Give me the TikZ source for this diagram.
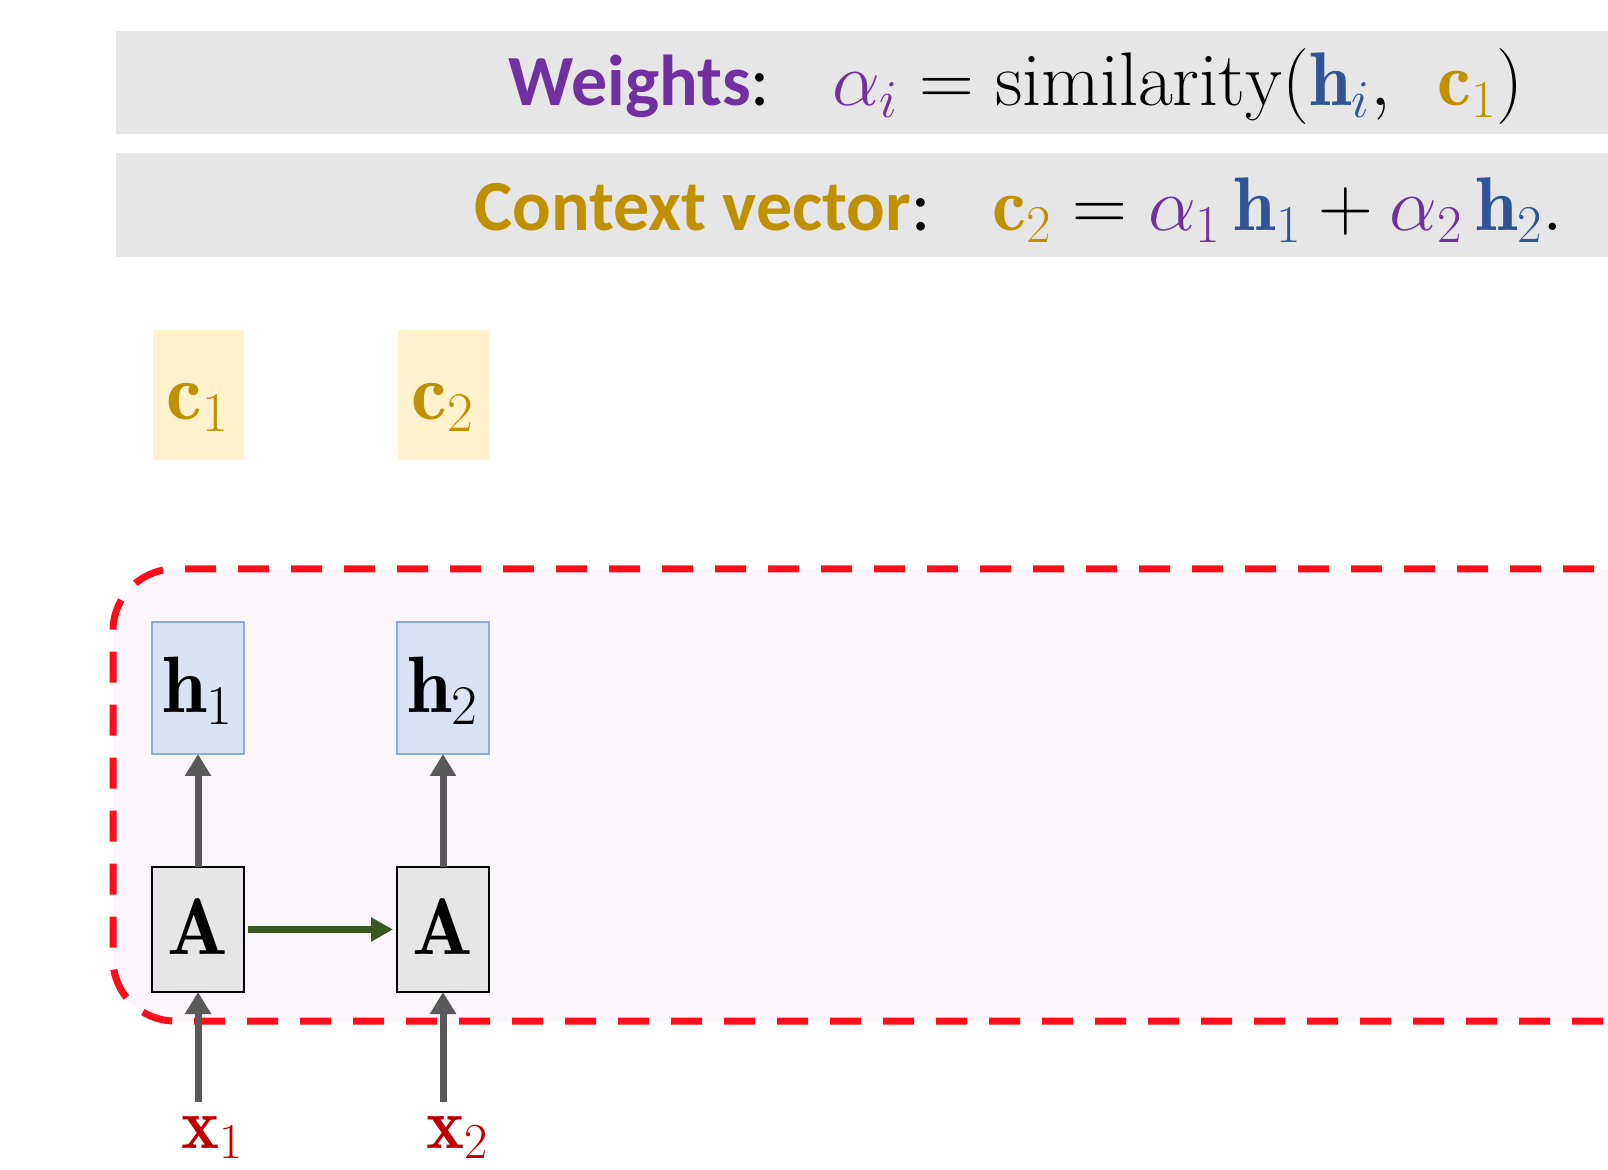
\documentclass[tikz,border=0pt]{standalone}
\usepackage{fix-cm}
\usepackage{amsmath}
\usepackage{fontspec}
\newfontfamily\calibri{Carlito}
\usetikzlibrary{positioning}
\usetikzlibrary{arrows.meta}

\definecolor{wpurple}{HTML}{7030A0}
\definecolor{cgold}{HTML}{BF9000}
\definecolor{hblue}{HTML}{2F5597}
\definecolor{xred}{HTML}{C00000}
\definecolor{barfill}{HTML}{E6E6E6}
\definecolor{cfill}{HTML}{FFF2CC}
\definecolor{hfill}{HTML}{DAE3F3}
\definecolor{hline}{HTML}{8FAADC}
\definecolor{cellfill}{HTML}{E6E6E6}
\definecolor{regionfill}{HTML}{FAF6FC}
\definecolor{dashred}{HTML}{FF0D1A}
\definecolor{arrowgray}{HTML}{595959}
\definecolor{stategreen}{HTML}{385723}

\newcommand{\eqfont}{\fontsize{38}{44}\selectfont}

\begin{document}
\begin{tikzpicture}[x=0.5pt, y=-0.5pt, node distance=56.5pt and 76.5pt,
    cell/.style={draw=black, line width=1pt, fill=cellfill, minimum width=46pt, minimum height=62.5pt,
        inner sep=0pt, outer sep=0pt, text height=25pt, text depth=0pt, font=\fontsize{40}{40}\selectfont},
    hidden/.style={draw=hline, line width=1pt, fill=hfill, minimum width=46pt, minimum height=66pt,
        inner sep=0pt, outer sep=0pt, text height=25pt, text depth=0pt, font=\fontsize{40}{40}\selectfont},
    context/.style={fill=cfill, minimum width=45.5pt, minimum height=65pt, inner sep=0pt, outer sep=0pt,
        text height=25pt, text depth=0pt, text=cgold, font=\fontsize{40}{40}\selectfont},
    input/.style={inner sep=0pt, text height=17pt, text depth=0pt, text=xred, font=\fontsize{36}{36}\selectfont},
    formula/.style={anchor=base west, inner sep=0pt, font=\fontsize{36}{40}\selectfont},
    bar/.style={fill=barfill},
    up/.style={draw=arrowgray, line width=3.5pt, -{Triangle[length=11pt, width=12.5pt]}},
    recur/.style={draw=stategreen, line width=3.5pt, -{Triangle[length=11pt, width=11.5pt]}}]

    \useasboundingbox (0,0) rectangle (1608,1170);

    % formula bars
    \fill[bar] (116,31) rectangle (1608,134);
    \fill[bar] (116,153) rectangle (1608,257);
    \node[formula] (weights) at (508,106)
        {{\calibri\bfseries\color{wpurple}Weights}{\calibri:}\hspace{31pt}%
        {\eqfont$\color{wpurple}\alpha_i \color{black} = \mathrm{similarity}(
        {\color{hblue}\mathbf{h}_i},\;\, {\color{cgold}\mathbf{c}_1})$}};
    \node[formula] (ctxvec) at (474,231)
        {{\calibri\bfseries\color{cgold}Context vector}{\calibri:}\hspace{31pt}%
        {\eqfont${\color{cgold}\mathbf{c}_2} = {\color{wpurple}\alpha_1}\,{\color{hblue}\mathbf{h}_1}
        + {\color{wpurple}\alpha_2}\,{\color{hblue}\mathbf{h}_2}.$}};

    % encoder region
    \draw[dashred, line width=3.5pt, dash pattern=on 15.5pt off 11pt, fill=regionfill,
        rounded corners=31pt] (1700,569) -- (113,569) -- (113,1021) -- (1700,1021);

    \node[cell] (A1) at (198,929.5) {$\mathbf{A}$};
    \node[cell] (A2) [right=of A1] {$\mathbf{A}$};
    \node[hidden] (h1) [above=of A1] {$\mathbf{h}_1$};
    \node[hidden] (h2) [above=of A2] {$\mathbf{h}_2$};
    \node[context] (c1) [above=81pt of h1] {$\mathbf{c}_1$};
    \node[context] (c2) [above=81pt of h2] {$\mathbf{c}_2$};
    \node[input, anchor=base] (x1) at (213,1148) {$\mathbf{x}_1$};
    \node[input, anchor=base] (x2) at (458,1148) {$\mathbf{x}_2$};

    \path (A1) edge[up] (h1);
    \path (A2) edge[up] (h2);
    \draw[up] ([yshift=6pt]x1.north -| A1.south) -- (A1.south);
    \draw[up] ([yshift=6pt]x2.north -| A2.south) -- (A2.south);
    \draw[recur, shorten <=2pt, shorten >=2pt] (A1) -- (A2);
\end{tikzpicture}
\end{document}
